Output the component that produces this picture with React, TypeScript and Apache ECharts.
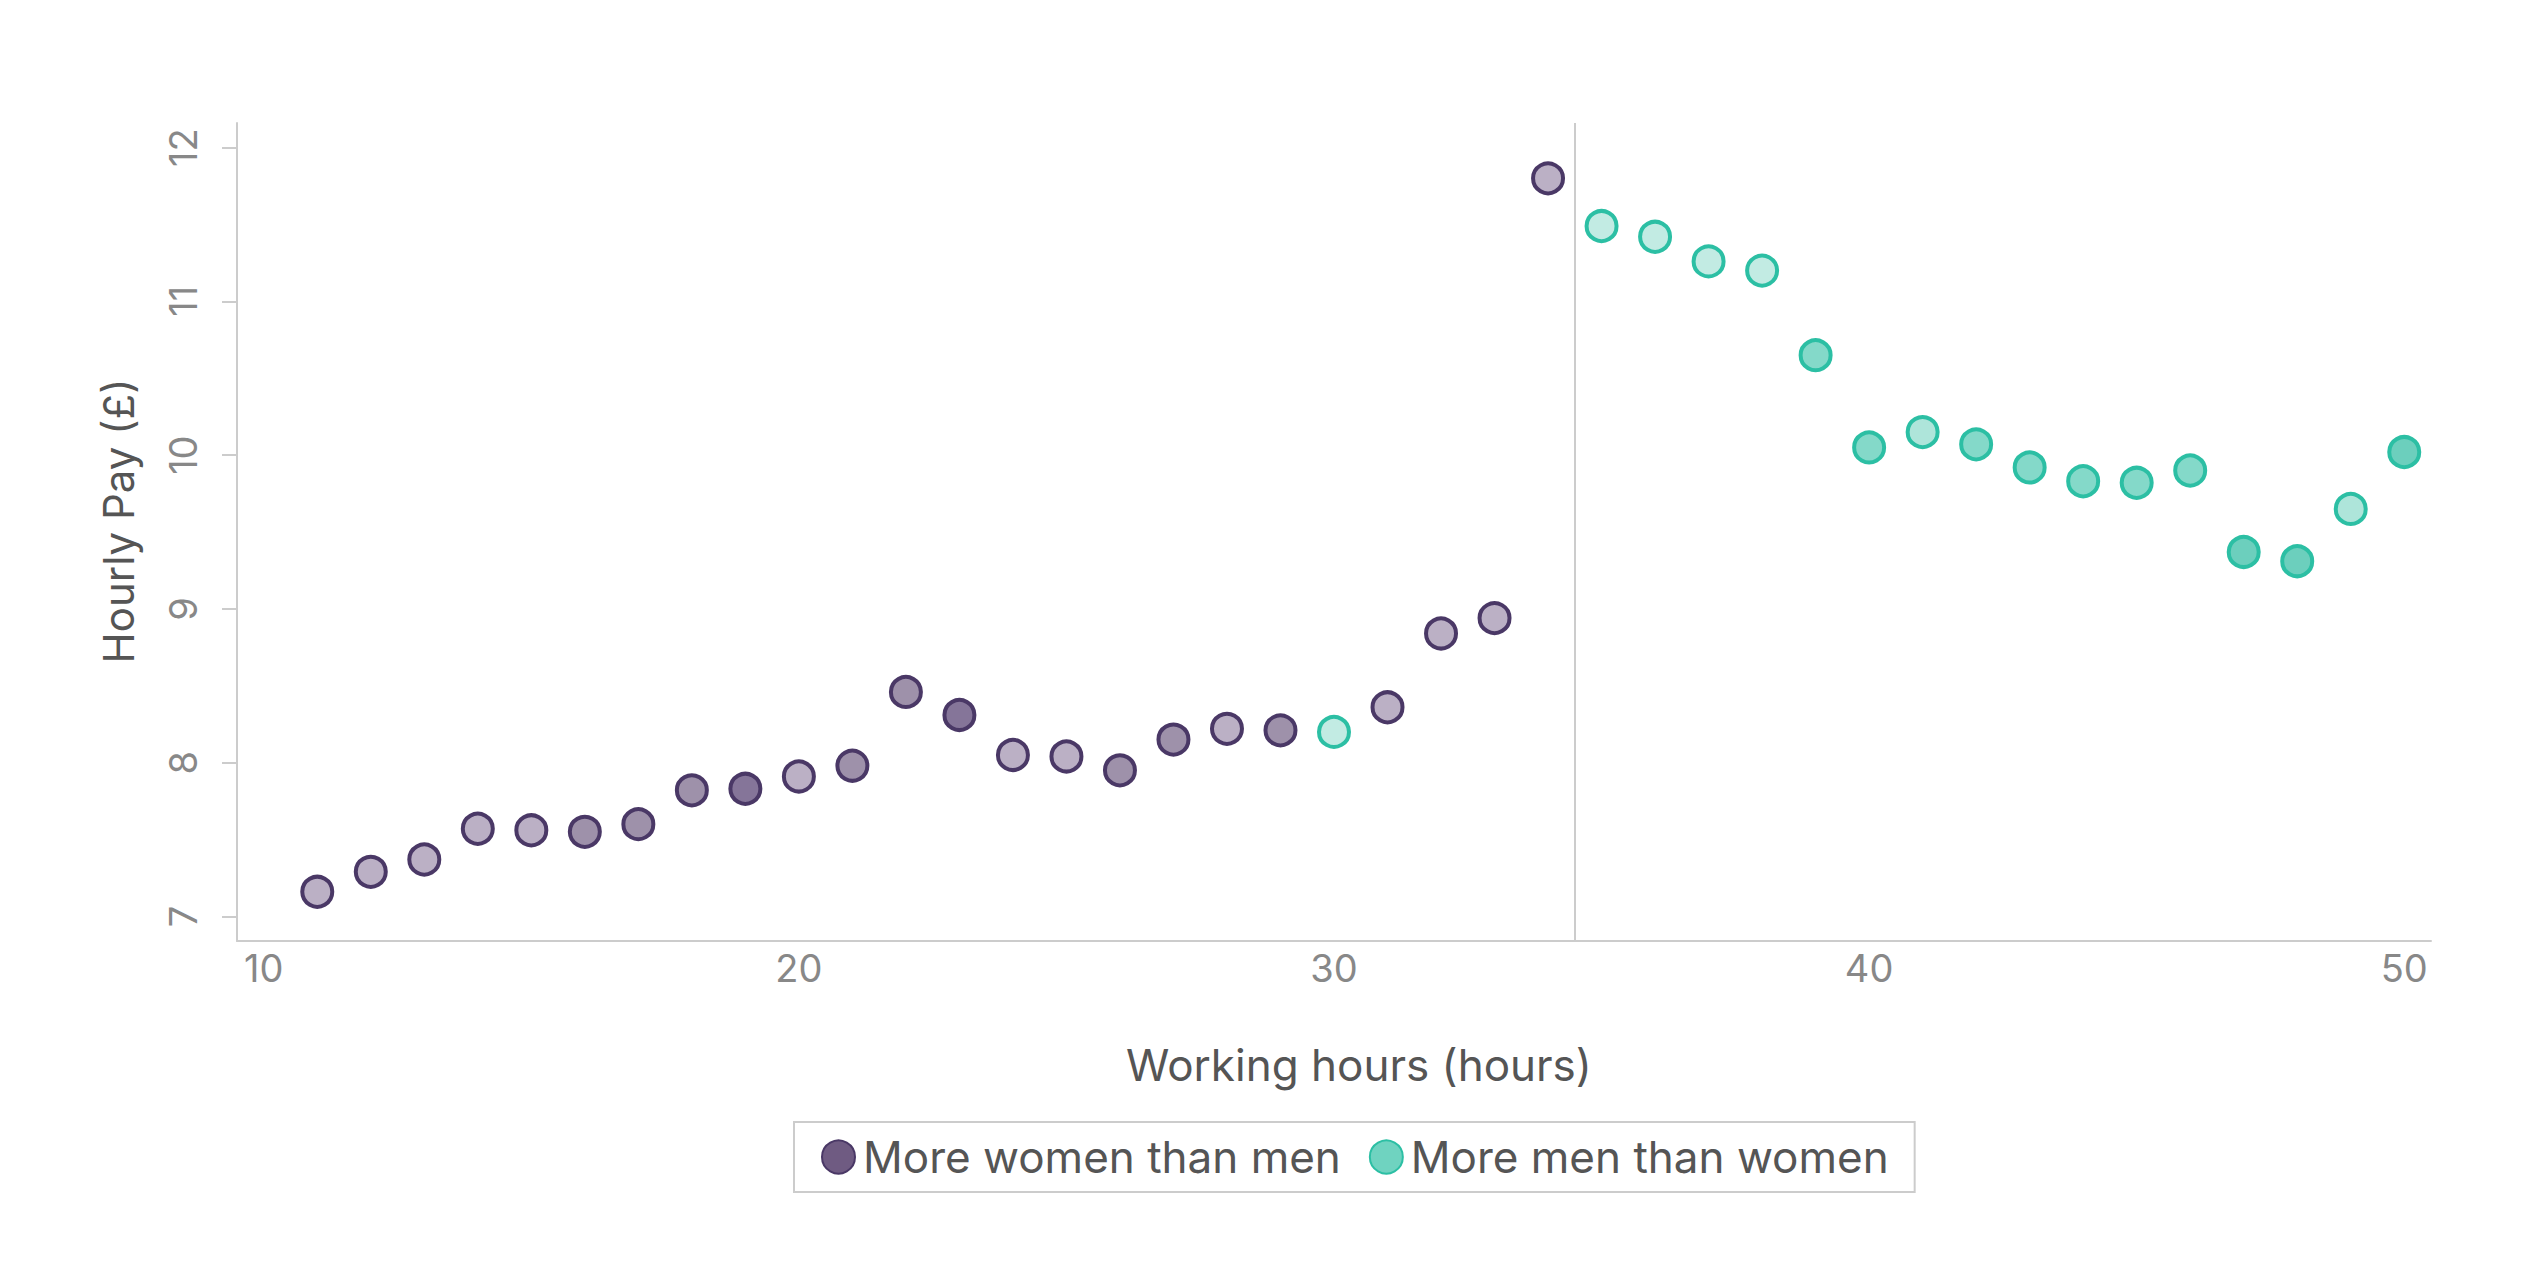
import React, { useEffect, useRef } from "react";
import * as echarts from "echarts";

const hours = [11, 12, 13, 14, 15, 16, 17, 18, 19, 20, 21, 22, 23, 24, 25, 26, 27, 28, 29, 30, 31, 32, 33, 34, 35, 36, 37, 38, 39, 40, 41, 42, 43, 44, 45, 46, 47, 48, 49, 50];
const pay = [7.16, 7.29, 7.37, 7.57, 7.56, 7.55, 7.6, 7.82, 7.83, 7.91, 7.98, 8.46, 8.31, 8.05, 8.04, 7.95, 8.15, 8.22, 8.21, 8.2, 8.36, 8.84, 8.94, 11.8, 11.49, 11.42, 11.26, 11.2, 10.65, 10.05, 10.15, 10.07, 9.92, 9.83, 9.82, 9.9, 9.37, 9.31, 9.65, 10.02];
// W = more women than men, M = more men than women
const group = ["W", "W", "W", "W", "W", "W", "W", "W", "W", "W", "W", "W", "W", "W", "W", "W", "W", "W", "W", "M", "W", "W", "W", "W", "M", "M", "M", "M", "M", "M", "M", "M", "M", "M", "M", "M", "M", "M", "M", "M"];
// fill intensity level 0..3
const shade = [0, 0, 0, 0, 0, 2, 2, 2, 3, 0, 2, 2, 3, 0, 0, 2, 2, 0, 2, 0, 0, 0, 0, 0, 0, 0, 0, 0, 2, 2, 1, 2, 2, 2, 2, 2, 3, 3, 1, 3];

const seriesNames = ["More women than men", "More men than women"];
const xTicks = [10, 20, 30, 40, 50];
const yTicks = [7, 8, 9, 10, 11, 12];
const dividerHour = 34.5;

const purpleFills = ["#bbb0c5", "#aca0b8", "#9e91aa", "#857599"];
const tealFills = ["#c2ebe3", "#aee5da", "#84d9c9", "#6ccfbd"];
const purpleStroke = "#4a3866";
const tealStroke = "#2cbfa4";
const FONT = "Inter";

export default function App() {
  const ref = useRef<HTMLDivElement>(null);
  useEffect(() => {
    if (!ref.current) return;
    const chart = echarts.init(ref.current, undefined, { renderer: "svg" });
    const womenData: any[] = [];
    const menData: any[] = [];
    hours.forEach((h, i) => {
      if (group[i] === "W") {
        womenData.push({ value: [h, pay[i]], itemStyle: { color: purpleFills[shade[i]] } });
      } else {
        menData.push({ value: [h, pay[i]], itemStyle: { color: tealFills[shade[i]] } });
      }
    });
    chart.setOption({
      animation: false,
      backgroundColor: "#ffffff",
      textStyle: { fontFamily: FONT },
      grid: { left: 237, right: 105, top: 123, bottom: 340 },
      legend: {
        left: 794,
        top: 1122,
        orient: "horizontal",
        itemWidth: 33,
        itemHeight: 33,
        itemGap: 28,
        padding: [13, 26, 13, 27],
        borderColor: "#cccccc",
        borderWidth: 2,
        icon: "circle",
        textStyle: { fontFamily: FONT, fontSize: 44, color: "#555555", padding: [0, 0, 0, 3] },
        data: seriesNames,
      },
      xAxis: {
        type: "value",
        min: 9.5,
        max: 50.5,
        name: "Working hours (hours)",
        nameLocation: "middle",
        nameGap: 102,
        nameTextStyle: { fontFamily: FONT, fontSize: 44, color: "#555555", padding: [0, 0, 0, 50] },
        axisLine: { show: true, lineStyle: { color: "#cccccc", width: 2 } },
        axisTick: { show: false },
        splitLine: { show: false },
        axisLabel: {
          customValues: xTicks,
          fontFamily: FONT,
          fontSize: 38,
          color: "#888888",
          margin: 8,
        },
      },
      yAxis: {
        type: "value",
        min: 6.84,
        max: 12.16,
        name: "Hourly Pay (£)",
        nameLocation: "middle",
        nameGap: 98,
        nameTextStyle: { fontFamily: FONT, fontSize: 42, color: "#555555", padding: [0, 0, 0, 22] },
        axisLine: { show: true, lineStyle: { color: "#cccccc", width: 2 } },
        axisTick: { show: true, customValues: yTicks, length: 15, lineStyle: { color: "#cccccc", width: 2 } },
        splitLine: { show: false },
        axisLabel: {
          customValues: yTicks,
          rotate: 90,
          fontFamily: FONT,
          fontSize: 38,
          color: "#888888",
          margin: 35,
        },
      },
      series: [
        {
          name: seriesNames[0],
          type: "scatter",
          symbol: "circle",
          symbolSize: 30,
          itemStyle: { color: "#6f5b82", borderColor: purpleStroke, borderWidth: 4, opacity: 1 },
          data: womenData,
          markLine: {
            silent: true,
            symbol: ["none", "none"],
            label: { show: false },
            lineStyle: { color: "#cccccc", width: 2, type: "solid" },
            data: [{ xAxis: dividerHour }],
          },
          z: 3,
        },
        {
          name: seriesNames[1],
          type: "scatter",
          symbol: "circle",
          symbolSize: 30,
          itemStyle: { color: "#6fd3c0", borderColor: tealStroke, borderWidth: 4, opacity: 1 },
          data: menData,
          z: 3,
        },
      ],
    });
    return () => chart.dispose();
  }, []);
  return (
    <div
      ref={ref}
      style={{ position: "fixed", left: 0, top: 0, width: 2536, height: 1281, background: "#fff" }}
    />
  );
}
